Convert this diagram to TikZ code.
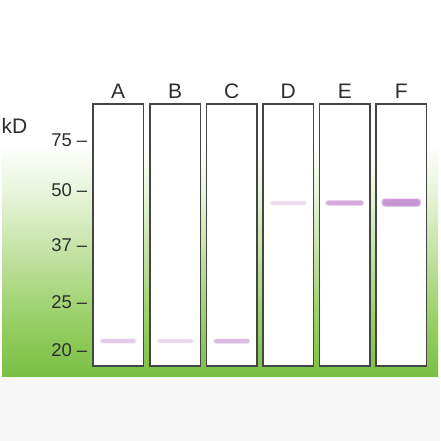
\documentclass[tikz,border=0pt]{standalone}
\usepackage{fontspec}
\setmainfont{Liberation Sans}
\definecolor{gA}{HTML}{FFFFFF}
\definecolor{gB}{HTML}{E3F2D3}
\definecolor{gC}{HTML}{BEE09D}
\definecolor{gD}{HTML}{98CF66}
\definecolor{gE}{HTML}{7AC044}
\definecolor{lanec}{HTML}{454545}
\definecolor{txt}{HTML}{2E2E2E}
\definecolor{bandc}{HTML}{A24FB5}
\tikzset{
  lanebox/.style={draw=lanec, line width=1.3pt, fill=white},
  lanelbl/.style={text=txt, font=\fontsize{21}{21}\selectfont, inner sep=0pt},
  ticklbl/.style={text=txt, font=\fontsize{18.5}{18.5}\selectfont, inner sep=0pt, anchor=east},
}
\newcommand{\bandat}[5]{% x center, y, half width, half height, opacity
  \foreach \k in {1,...,5}{
    \fill[bandc, opacity=#5/5, rounded corners=#4pt]
      ({#1-#3-2+0.4*\k},{#2-#4-1.2+0.25*\k}) rectangle ({#1+#3+2-0.4*\k},{#2+#4+1.2-0.25*\k});
  }
}
\begin{document}
\begin{tikzpicture}[x=1pt,y=-1pt]
\useasboundingbox (0,0) rectangle (440,441);
\fill[white] (0,0) rectangle (440,441);
\fill[black!3] (0,376) rectangle (440,441);
% green gradient background
\shade[top color=gA, bottom color=gB] (2,145) rectangle (438,200.5);
\shade[top color=gB, bottom color=gC] (2,200) rectangle (438,260.5);
\shade[top color=gC, bottom color=gD] (2,260) rectangle (438,320.5);
\shade[top color=gD, bottom color=gE] (2,320) rectangle (438,376);
% lanes
\foreach \n/\x/\l in {la/93/A, lb/150/B, lc/206.5/C, ld/263/D, le/319.5/E, lf/376/F}{
  \draw[lanebox] (\x,104) rectangle ({\x+50.5},366);
  \node[lanelbl] (\n) at ({\x+25.25},91) {\l};
}
% kD and ticks
\node[text=txt, font=\fontsize{21}{21}\selectfont, inner sep=0pt, anchor=west] (kd) at (1.5,126) {kD};
\node[ticklbl] (t75) at (87.5,140) {75 –};
\node[ticklbl] (t50) at (87.5,190) {50 –};
\node[ticklbl] (t37) at (87.5,245) {37 –};
\node[ticklbl] (t25) at (87.5,302) {25 –};
\node[ticklbl] (t20) at (87.5,350) {20 –};
% bands
\bandat{118.25}{341}{17}{1.6}{0.34}
\bandat{175.25}{341}{17}{1.5}{0.24}
\bandat{231.75}{341}{17}{1.8}{0.45}
\bandat{288.25}{203}{17}{1.5}{0.22}
\bandat{344.75}{203}{18}{1.9}{0.58}
\bandat{401.25}{202.5}{18.5}{3.3}{0.8}
\end{tikzpicture}
\end{document}
